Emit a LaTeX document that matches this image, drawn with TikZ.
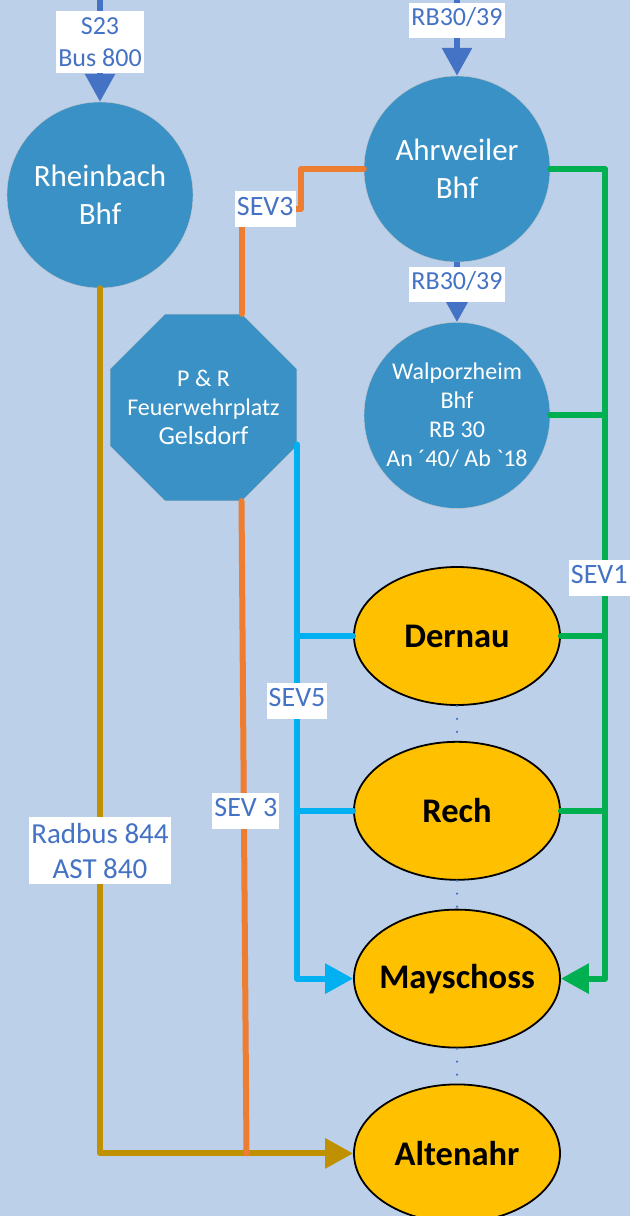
\documentclass[tikz,border=0pt]{standalone}
\usepackage{fontspec}
\setmainfont{Carlito}
\usetikzlibrary{shapes.geometric, arrows.meta, positioning, calc}

\definecolor{bgblue}{RGB}{189,208,233}
\definecolor{stationblue}{RGB}{58,145,198}
\definecolor{railblue}{RGB}{68,114,196}
\definecolor{labelblue}{RGB}{68,114,196}
\definecolor{stopyellow}{RGB}{255,192,0}
\definecolor{sevorange}{RGB}{237,125,49}
\definecolor{radgold}{RGB}{191,144,0}
\definecolor{sevcyan}{RGB}{0,176,240}
\definecolor{sevgreen}{RGB}{0,176,80}

\begin{document}
\begin{tikzpicture}[
  x=1pt, y=-1pt,
  station/.style = {circle, fill=stationblue, draw=gray!45, thin,
                    minimum size=186pt, inner sep=0pt,
                    align=center, text=white,
                    font=\fontsize{31}{38}\selectfont},
  smallstation/.style = {station, font=\fontsize{24}{29}\selectfont},
  parkride/.style = {regular polygon, regular polygon sides=8,
                    minimum size=202pt, inner sep=-25pt,
                    fill=stationblue, draw=gray!45, thin,
                    align=center, text=white,
                    font=\fontsize{24}{29}\selectfont},
  stop/.style     = {ellipse, fill=stopyellow, draw=black, line width=1.8pt,
                    minimum width=206pt, minimum height=138pt,
                    inner xsep=-30pt, inner ysep=0pt,
                    font=\fontsize{34.5}{40}\selectfont\bfseries},
  feed/.style     = {-{Triangle[length=28pt, width=29pt]},
                    line width=6pt, draw=railblue},
  sev/.style      = {line width=6pt, line cap=round, line join=round},
  sevarr/.style   = {sev, -{Triangle[length=28pt, width=29pt]}},
  link/.style     = {draw=railblue, line width=2.5pt, line cap=round,
                    dash pattern=on 0pt off 13pt},
  lbl/.style      = {fill=white, text=labelblue,
                    font=\fontsize{26}{32}\selectfont,
                    inner xsep=2pt, inner ysep=6pt, align=center},
  lblone/.style   = {lbl, inner ysep=5pt, text height=18pt, text depth=7pt},
  lblsev/.style   = {lblone, font=\fontsize{28}{34}\selectfont,
                    text height=19pt}
]

\useasboundingbox (0,0) rectangle (630,1216);
\fill[bgblue] (0,0) rectangle (630,1216);

%── Bahnhöfe ──────────────────────────────────────────────────────────────
\node[station] (rheinbach) at (100,195) {Rheinbach\\Bhf};
\node[station] (ahrweiler) at (457,169) {Ahrweiler\\Bhf};

\node[smallstation, below=60pt of ahrweiler] (walporzheim)
  {Walporzheim\\Bhf\\RB 30\\An \textasciiacute40/ Ab \textasciigrave18};

\node[parkride] (gelsdorf) at (203.5,407.5)
  {P \& R\\Feuerwehrplatz\\{\fontsize{26}{29}\selectfont Gelsdorf}};

%── Haltestellen an der Ahr ───────────────────────────────────────────────
\node[stop] (dernau) at (457,636) {Dernau};
\node[stop, below=35pt of dernau] (rech) {Rech};
\node[stop, below=28pt of rech] (mayschoss) {Mayschoss};
\node[stop, below=35pt of mayschoss] (altenahr) {Altenahr};

\draw[link] (dernau.south) -- (rech.north);
\draw[link] (rech.south) -- (mayschoss.north);
\draw[link] (mayschoss.south) -- (altenahr.north);

%── Zubringer ─────────────────────────────────────────────────────────────
\coordinate (rheinbach_in) at (100,-5);
\coordinate (ahrweiler_in) at (457,-5);

\draw[feed] (rheinbach_in) --
  node[lbl, pos=0.44] {S23\\Bus 800}
  (rheinbach);

\draw[feed] (ahrweiler_in) --
  node[lblone, pos=0.31] {RB30/39}
  (ahrweiler);

\draw[feed] (ahrweiler) --
  node[lblone, pos=0.37] {RB30/39}
  (walporzheim);

%── Radbus (Rheinbach -> Altenahr) ────────────────────────────────────────
\draw[sevarr, draw=radgold] (rheinbach.south) --
  node[lbl, pos=0.65, font=\fontsize{29}{35}\selectfont] {Radbus 844\\AST 840}
  (rheinbach.south |- altenahr.west) -- (altenahr.west);

%── SEV 3 (Ahrweiler -> Gelsdorf -> Altenahr) ─────────────────────────────
\coordinate (sev3_upper) at ($(gelsdorf.north)+(38,0)$);
\coordinate (sev3_lower) at ($(gelsdorf.south)+(38,0)$);

\draw[sev, draw=sevorange] (ahrweiler.west) -- ++(-63,0) -- ++(0,40)
  -| node[lblsev, pos=0.3] {SEV3}
  (sev3_upper);

\draw[sev, draw=sevorange] (sev3_lower) --
  node[lblsev, pos=0.475, xshift=2pt] {SEV 3}
  ($(sev3_lower |- altenahr.west)+(5,0)$);

%── SEV 5 (Gelsdorf -> Mayschoss) ─────────────────────────────────────────
\coordinate (sev5_top) at ($(gelsdorf.east)+(0,37)$);

\draw[sevarr, draw=sevcyan] (sev5_top) --
  node[lblsev, pos=0.48] {SEV5}
  (sev5_top |- mayschoss.west) -- (mayschoss.west);
\draw[sev, draw=sevcyan] (sev5_top |- dernau.west) -- (dernau.west);
\draw[sev, draw=sevcyan] (sev5_top |- rech.west) -- (rech.west);

%── SEV 1 (Ahrweiler -> Mayschoss) ────────────────────────────────────────
\coordinate (sev1_top) at ($(ahrweiler.east)+(55,0)$);

\draw[sevarr, draw=sevgreen] (ahrweiler.east) -- (sev1_top) --
  node[lblsev, pos=0.505, xshift=-6pt] {SEV1}
  (sev1_top |- mayschoss.east) -- (mayschoss.east);
\draw[sev, draw=sevgreen] (walporzheim.east) -- (sev1_top |- walporzheim.east);
\draw[sev, draw=sevgreen] (dernau.east) -- (sev1_top |- dernau.east);
\draw[sev, draw=sevgreen] (rech.east) -- (sev1_top |- rech.east);

\end{tikzpicture}
\end{document}
